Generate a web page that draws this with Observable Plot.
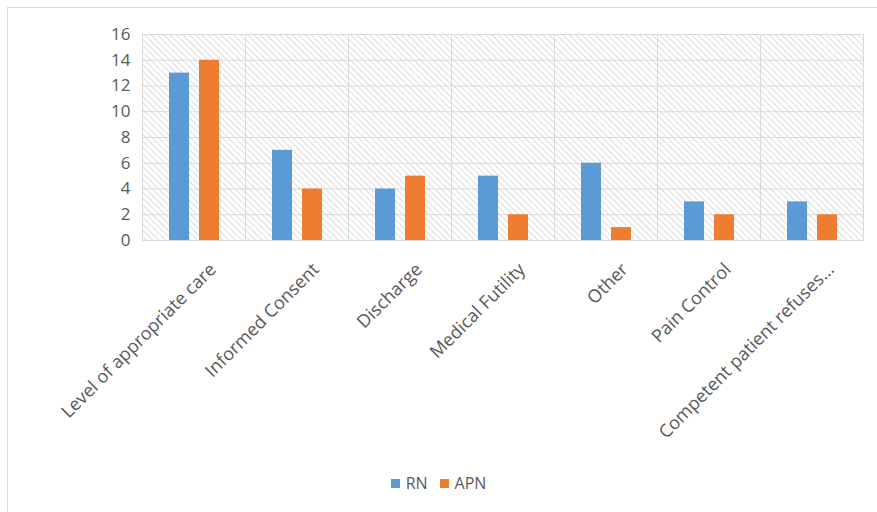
<!DOCTYPE html>
<html><head><meta charset="utf-8">
<script src="https://cdn.jsdelivr.net/npm/d3@7"></script>
<script src="https://cdn.jsdelivr.net/npm/@observablehq/plot@0.6"></script>
<style>
body{margin:0;background:#fff;font-family:"Open Sans",sans-serif}
#wrap{position:relative;width:877px;height:512px;overflow:hidden;background:#fff}
#border{position:absolute;left:7px;top:7px;width:900px;height:540px;border:1px solid #d9d9d9;box-sizing:border-box;pointer-events:none}
#chart{position:absolute;left:0;top:0}
#legend{position:absolute;top:472px;left:0;width:877px;text-align:center;font-size:16px;color:#595959;font-family:"Open Sans",sans-serif}
#legend span.item{display:inline-block;margin:0 6px}
#legend span.sw{display:inline-block;width:9px;height:9px;margin-right:6px;vertical-align:middle;position:relative;top:-1px}
</style></head>
<body>
<div id="wrap"><div id="border"></div><div id="chart"></div><div id="legend"></div></div>
<script>
const categories = ["Level of appropriate care","Informed Consent","Discharge","Medical Futility","Other","Pain Control","Competent patient refuses..."];
const series = ["RN","APN"];
const rnValues = [13,7,4,5,6,3,3];
const apnValues = [14,4,5,2,1,2,2];
const colors = ["#5B9BD5","#ED7D31"];
const yTicks = [0,2,4,6,8,10,12,14,16];

const rows = [];
categories.forEach((c,i)=>{
  rows.push({category:c, series:"RN", value:rnValues[i]});
  rows.push({category:c, series:"APN", value:apnValues[i]});
});

const chart = Plot.plot({
  width:877, height:512,
  marginLeft:141, marginRight:13, marginTop:34, marginBottom:272,
  style:{fontFamily:"'Open Sans', sans-serif", color:"#595959", background:"transparent"},
  fx:{domain:categories, padding:0, label:null, axis:null},
  x:{domain:series, axis:null, paddingInner:1/3, paddingOuter:0.88},
  y:{domain:[0,16], label:null, axis:null},
  color:{domain:series, range:colors},
  marks:[
    Plot.frame({fill:"url(#hatch)", stroke:"#d9d9d9"}),
    Plot.gridY(yTicks,{stroke:"#d9d9d9", strokeOpacity:1}),
    Plot.barY(rows,{fx:"category", x:"series", y:"value", fill:"series"}),
    Plot.axisY(yTicks,{tickSize:0, tickPadding:12, fontSize:17, label:null}),
    Plot.axisFx({anchor:"bottom", tickRotate:-45, tickSize:0, tickPadding:0, fontSize:18, label:null, dx:19, dy:26})
  ]
});
const svg = d3.select(chart);
const defs = svg.insert("defs", ":first-child");
const pat = defs.append("pattern").attr("id","hatch").attr("patternUnits","userSpaceOnUse")
  .attr("width",4.5).attr("height",4.5).attr("patternTransform","rotate(-45)");
pat.append("rect").attr("width",4.5).attr("height",4.5).attr("fill","#ffffff");
pat.append("line").attr("x1",0).attr("y1",0).attr("x2",0).attr("y2",4.5).attr("stroke","#c6c6c6").attr("stroke-width",1.2);
document.getElementById("chart").appendChild(chart);

const legend = d3.select("#legend");
series.forEach((s,i)=>{
  const it = legend.append("span").attr("class","item");
  it.append("span").attr("class","sw").style("background",colors[i]);
  it.append("span").text(s);
});
</script>
</body></html>
